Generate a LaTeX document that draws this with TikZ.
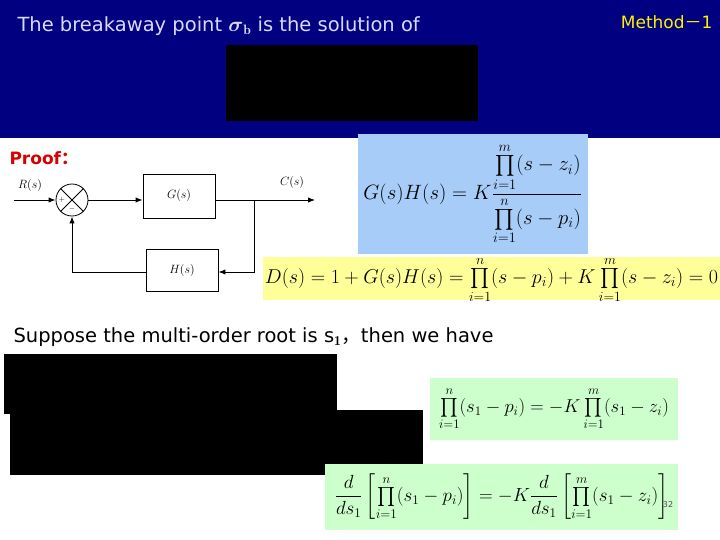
\documentclass[tikz,border=0pt]{standalone}
\usepackage{amsmath}
\usepackage{graphicx}
\usepackage{fontspec}
\setsansfont{DejaVu Sans}
\newfontfamily\cjk{Noto Sans CJK SC}
\usetikzlibrary{arrows.meta}
\definecolor{navy}{HTML}{000080}
\definecolor{lblue}{HTML}{A8CCF8}
\definecolor{lyellow}{HTML}{FFFF99}
\definecolor{lgreen}{HTML}{CCFFCC}
\begin{document}
\begin{tikzpicture}[x=1pt,y=-1pt,
  blk/.style={draw,thick,minimum width=72pt,minimum height=44pt,font=\large},
  sig/.style={thick,-{Latex[length=7pt]}},
  eq/.style={font=\fontsize{17}{20}\selectfont}]
\useasboundingbox (0,0) rectangle (720,540);
\fill[white] (0,0) rectangle (720,540);
\fill[navy] (0,0) rectangle (720,138);
\node[anchor=west,text=white!85!blue,font=\sffamily\fontsize{19.5}{23}\selectfont] (title) at (14,26) {The breakaway point $\boldsymbol\sigma_{\mathbf b}$ is the solution of};
\fill[black] (226,45) rectangle (478,121);
\node[anchor=east,text=yellow,font=\sffamily\fontsize{17}{20}\selectfont] (meth) at (716,22) {Method{\cjk －}1};
\node[anchor=west,text=red!85!black,font=\sffamily\bfseries\fontsize{17}{20}\selectfont] (proof) at (6,158) {Proof{\cjk ：}};
% block diagram
\node[font=\large] (R) at (30,186) {$R(s)$};
\coordinate (in) at (14,200);
\node[draw,thick,circle,minimum size=32pt] (sum) at (72,200) {};
\draw[thick] (sum.45)--(sum.225) (sum.135)--(sum.315);
\node[font=\scriptsize] at (62,200) {$+$};
\node[font=\scriptsize] at (72,209) {$-$};
\node[blk] (G) at (179,196) {$G(s)$};
\node[blk,minimum height=42pt] (H) at (182,270) {$H(s)$};
\coordinate (out) at (315,200);
\coordinate (br) at (254,200);
\node[font=\large] (C) at (292,183) {$C(s)$};
\draw[sig] (in)--(sum.west);
\draw[sig] (sum.east)--(G.west|-sum.east);
\draw[sig] (G.east|-br)--(out);
\draw[sig] (br)--(254,272)--(H.east|-0,272);
\draw[sig] (H.west|-0,272)--(72,272)--(sum.south);
% formulas
\fill[lblue] (358,134) rectangle (588,254);
\node[eq] (f1) at (473,194)
 {\scalebox{1.2}{$G(s)H(s)=K\dfrac{\prod\limits_{i=1}^{m}(s-z_i)}{\prod\limits_{i=1}^{n}(s-p_i)}$}};
\fill[lyellow] (263,257) rectangle (720,300);
\node[eq] (f2) at (491.5,280)
 {\scalebox{1.16}{$D(s)=1+G(s)H(s)=\prod\limits_{i=1}^{n}(s-p_i)+K\prod\limits_{i=1}^{m}(s-z_i)=0$}};
\node[anchor=west,font=\sffamily\fontsize{19.5}{23}\selectfont] (sup) at (10,337) {Suppose the multi-order root is s$_{\mathbf 1}${\cjk ，}then we have};
\fill[black] (4,354) rectangle (337,414);
\fill[black] (10,410) rectangle (423,475);
\fill[lgreen] (430,378) rectangle (678,440);
\node[eq] (f3) at (554,409)
 {\scalebox{1.08}{$\prod\limits_{i=1}^{n}(s_1-p_i)=-K\prod\limits_{i=1}^{m}(s_1-z_i)$}};
\fill[lgreen] (325,464) rectangle (678,530);
\node[eq] (f4) at (501.5,497)
 {\scalebox{1.1}{$\dfrac{d}{ds_1}\left[\prod\limits_{i=1}^{n}(s_1-p_i)\right]=-K\dfrac{d}{ds_1}\left[\prod\limits_{i=1}^{m}(s_1-z_i)\right]$}};
\node[font=\sffamily\footnotesize,text=black!70] (pg) at (668,505) {32};
\end{tikzpicture}
\end{document}
